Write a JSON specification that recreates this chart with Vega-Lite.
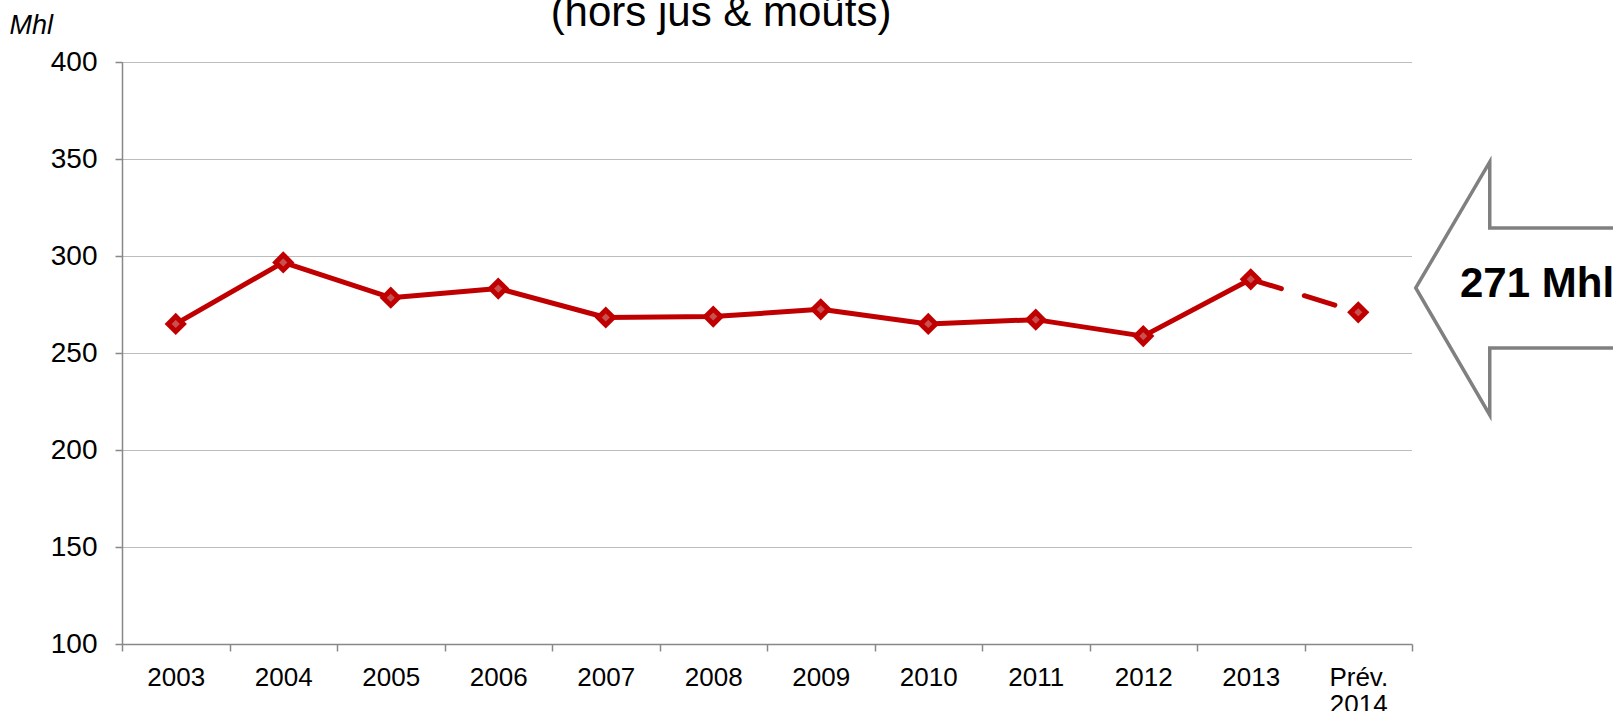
{
  "$schema": "https://vega.github.io/schema/vega-lite/v6.json",
  "width": 1290,
  "height": 582,
  "autosize": {"type": "none"},
  "padding": {"left": 122, "top": 62, "right": 201, "bottom": 67},
  "background": "white",
  "config": {
    "font": "Liberation Sans",
    "view": {"stroke": null},
    "axis": {
      "domainColor": "#888888",
      "domainWidth": 1.5,
      "tickColor": "#888888",
      "tickWidth": 1.5,
      "tickSize": 7,
      "labelFont": "Liberation Sans",
      "labelFontSize": 26,
      "labelColor": "#000000"
    }
  },
  "title": {
    "text": "(hors jus & moûts)",
    "font": "Liberation Sans",
    "fontSize": 42,
    "fontWeight": "normal",
    "color": "#000000",
    "anchor": "middle",
    "frame": "group",
    "baseline": "alphabetic",
    "dx": -46,
    "offset": -57
  },
  "datasets": {
    "production": [
      {"year": "2003", "value": 265.0},
      {"year": "2004", "value": 296.7},
      {"year": "2005", "value": 278.5},
      {"year": "2006", "value": 283.2},
      {"year": "2007", "value": 268.3},
      {"year": "2008", "value": 268.8},
      {"year": "2009", "value": 272.5},
      {"year": "2010", "value": 265.0},
      {"year": "2011", "value": 267.2},
      {"year": "2012", "value": 258.7},
      {"year": "2013", "value": 288.0},
      {"year": "Prév. 2014", "value": 271.0}
    ],
    "annotation": [
      {"year": "Prév. 2014", "value": 271, "label": "271 Mhl"}
    ]
  },
  "encoding": {
    "x": {
      "field": "year",
      "type": "ordinal",
      "sort": ["2003", "2004", "2005", "2006", "2007", "2008", "2009", "2010", "2011", "2012", "2013", "Prév. 2014"],
      "scale": {"type": "band", "paddingInner": 0, "paddingOuter": 0},
      "axis": {
        "title": null,
        "grid": false,
        "tickBand": "extent",
        "labelAngle": 0,
        "labelBaseline": "top",
        "labelPadding": 13,
        "labelLineHeight": 27,
        "labelExpr": "datum.value == 'Prév. 2014' ? ['Prév.', '2014'] : datum.value"
      }
    },
    "y": {
      "field": "value",
      "type": "quantitative",
      "scale": {"domain": [100, 400], "nice": false, "zero": false},
      "axis": {
        "values": [100, 150, 200, 250, 300, 350, 400],
        "grid": true,
        "gridColor": "#7a7a7a",
        "gridDash": [1, 1],
        "gridWidth": 1,
        "labelFontSize": 28,
        "labelPadding": 18,
        "title": "Mhl",
        "titleAngle": 0,
        "titleX": -113,
        "titleY": -29,
        "titleAlign": "left",
        "titleBaseline": "alphabetic",
        "titleFont": "Liberation Sans",
        "titleFontSize": 27,
        "titleFontStyle": "italic",
        "titleFontWeight": "normal",
        "titleColor": "#000000"
      }
    }
  },
  "layer": [
    {
      "data": {"name": "annotation"},
      "mark": {
        "type": "point",
        "shape": "M0,0L74,-126L74,-60L260,-60L260,60L74,60L74,127Z",
        "size": 4,
        "filled": true,
        "fill": "#ffffff",
        "stroke": "#808080",
        "strokeWidth": 3.5,
        "opacity": 1,
        "xOffset": 57.5,
        "yOffset": -24.3
      }
    },
    {
      "data": {"name": "annotation"},
      "mark": {
        "type": "text",
        "align": "left",
        "baseline": "alphabetic",
        "font": "Liberation Sans",
        "fontSize": 42,
        "fontWeight": "bold",
        "color": "#000000",
        "dx": 101.75,
        "dy": -15.6
      },
      "encoding": {"text": {"field": "label"}}
    },
    {
      "data": {"name": "production"},
      "transform": [{"filter": "datum.year != 'Prév. 2014'"}],
      "mark": {"type": "line", "color": "#C00000", "strokeWidth": 5, "strokeJoin": "round"}
    },
    {
      "data": {"name": "production"},
      "transform": [{"filter": "datum.year == '2013' || datum.year == 'Prév. 2014'"}],
      "mark": {"type": "line", "color": "#C00000", "strokeWidth": 5, "strokeDash": [32, 24], "strokeCap": "round"}
    },
    {
      "data": {"name": "production"},
      "mark": {
        "type": "point",
        "shape": "diamond",
        "size": 230,
        "filled": true,
        "fill": "#C85050",
        "stroke": "#C00000",
        "strokeWidth": 5,
        "opacity": 1
      }
    }
  ]
}
